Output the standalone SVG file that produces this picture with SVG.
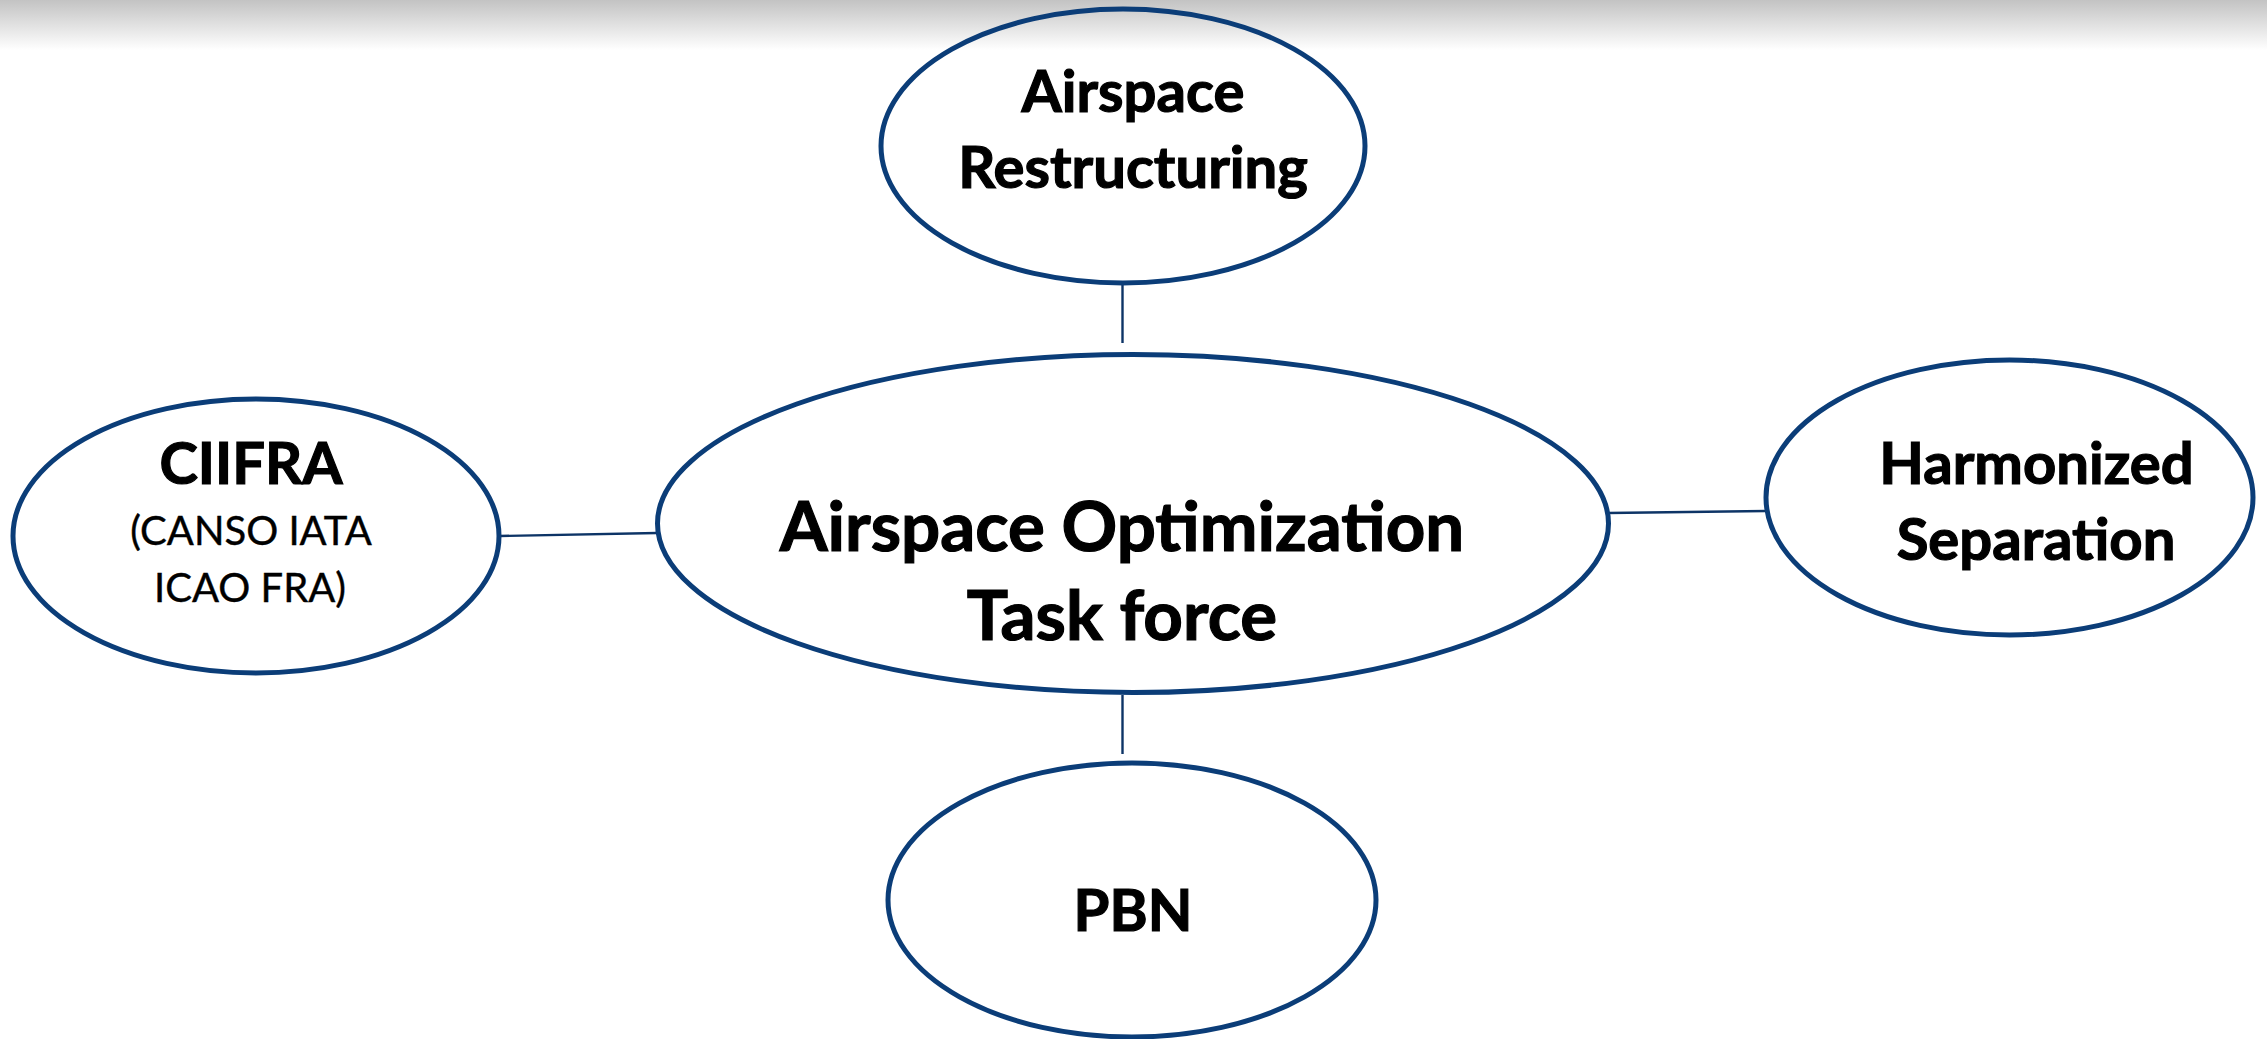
<svg xmlns="http://www.w3.org/2000/svg" width="2267" height="1039" viewBox="0 0 2267 1039">
  <defs>
    <linearGradient id="topShade" x1="0" y1="0" x2="0" y2="1">
      <stop offset="0" stop-color="#c3c3c3"/>
      <stop offset="1" stop-color="#ffffff"/>
    </linearGradient>
    <style>
      .node { fill: none; stroke: #0b3d78; stroke-width: 5; }
      .conn { stroke: #0d3466; stroke-width: 2.4; fill: none; }
      .lbl { font-family: Lato, "Liberation Sans", sans-serif; font-weight: 700; fill: #000; stroke: #000; stroke-width: 1.2; text-anchor: middle; }
      .sub { font-family: Lato, "Liberation Sans", sans-serif; font-weight: 400; fill: #000; stroke: #000; stroke-width: 0.4; text-anchor: middle; }
    </style>
  </defs>
  <rect x="0" y="0" width="2267" height="1039" fill="#ffffff"/>
  <rect x="0" y="0" width="2267" height="50" fill="url(#topShade)"/>

  <g id="connectors">
    <line class="conn" x1="1122.5" y1="284" x2="1122.5" y2="343"/>
    <line class="conn" x1="1122.5" y1="695" x2="1122.5" y2="754"/>
    <line class="conn" x1="500" y1="536" x2="657" y2="533"/>
    <line class="conn" x1="1608" y1="513" x2="1766" y2="511"/>
  </g>

  <g id="node-center">
    <ellipse class="node" cx="1133" cy="523.5" rx="475.5" ry="169"/>
    <text class="lbl" x="1122" y="551" font-size="69">Airspace Optimization</text>
    <text class="lbl" x="1122" y="640" font-size="69">Task force</text>
  </g>

  <g id="node-top">
    <ellipse class="node" cx="1123" cy="146" rx="242" ry="137"/>
    <text class="lbl" x="1133" y="112" font-size="58">Airspace</text>
    <text class="lbl" x="1133" y="188" font-size="58">Restructuring</text>
  </g>

  <g id="node-left">
    <ellipse class="node" cx="256" cy="536" rx="243" ry="137"/>
    <text class="lbl" x="251" y="484" font-size="58">CIIFRA</text>
    <text class="sub" x="251" y="545" font-size="40">(CANSO IATA</text>
    <text class="sub" x="250" y="602" font-size="40">ICAO FRA)</text>
  </g>

  <g id="node-right">
    <ellipse class="node" cx="2009.5" cy="497.5" rx="243.5" ry="137.5"/>
    <text class="lbl" x="2036.5" y="484" font-size="58">Harmonized</text>
    <text class="lbl" x="2036" y="560" font-size="58">Separation</text>
  </g>

  <g id="node-bottom">
    <ellipse class="node" cx="1132" cy="900" rx="244" ry="137"/>
    <text class="lbl" x="1133" y="931" font-size="58">PBN</text>
  </g>
</svg>
